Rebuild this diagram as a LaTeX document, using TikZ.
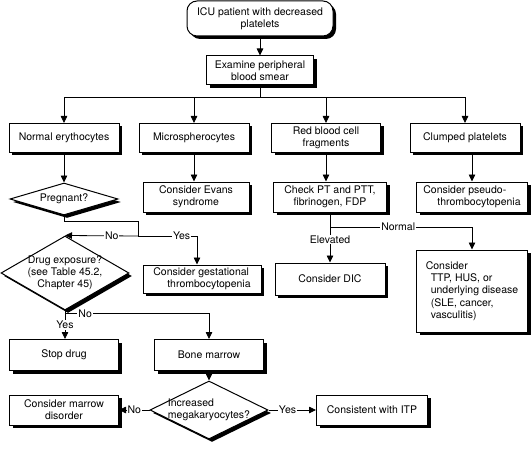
\documentclass[tikz,border=0pt]{standalone}
\usepackage{fontspec}
\setmainfont{TeX Gyre Heros}
\usetikzlibrary{shapes.geometric,shadows,arrows.meta}

\begin{document}
\begin{tikzpicture}[
    x=1pt, y=-1pt,
    boxshadow/.style={drop shadow={shadow xshift=3pt, shadow yshift=-3pt, fill=black, opacity=1}},
    flowbox/.style={rectangle, draw, line width=1pt, fill=white, boxshadow, inner sep=2pt, align=center, font=\fontsize{10.5}{12.2}\selectfont},
    flowdiamond/.style={diamond, draw, line width=1pt, fill=white, boxshadow, inner sep=0pt, align=center, font=\fontsize{10.5}{12.2}\selectfont},
    flowarrow/.style={-{Triangle[length=7pt,width=6.5pt]}, line width=0.8pt},
    flowline/.style={line width=0.8pt},
    flowlabel/.style={fill=white, inner sep=1pt, font=\fontsize{10.5}{12.2}\selectfont},
]
\useasboundingbox (0,0) rectangle (532,449);

\node[flowbox, rounded corners=10pt, minimum width=146pt, minimum height=35pt] (icu) at (260,18.5) {ICU patient with decreased\\platelets};
\node[flowbox, minimum width=107pt, minimum height=29pt] (smear) at (260,70.5) {Examine peripheral\\blood smear};
\coordinate (split) at (260,97);

\node[flowbox, minimum width=110pt, minimum height=29pt] (normal) at (64,138) {Normal erythocytes};
\node[flowbox, minimum width=110pt, minimum height=29pt] (micro)  at (194,138) {Microspherocytes};
\node[flowbox, minimum width=109pt, minimum height=29pt] (rbc)    at (326,138) {Red blood cell\\fragments};
\node[flowbox, minimum width=110pt, minimum height=29pt] (clump)  at (465,138) {Clumped platelets};

\node[flowdiamond, minimum width=108pt, minimum height=32pt, aspect=3.4] (preg) at (64,199) {Pregnant?};
\node[flowbox, minimum width=106pt, minimum height=30pt] (evans)  at (196,197) {Consider Evans\\syndrome};
\node[flowbox, minimum width=113pt, minimum height=30pt] (check)  at (330,197) {Check PT and PTT,\\fibrinogen, FDP};
\node[flowbox, minimum width=111pt, minimum height=30pt, align=left] (pseudo) at (472,197) {Consider pseudo-\\\hspace*{14pt}thrombocytopenia};

\coordinate (pj) at (138,236);
\coordinate (cj) at (330,227);
\node[flowdiamond, minimum width=128pt, minimum height=74pt, aspect=1.73, inner xsep=-6pt, inner ysep=-4pt] (drug) at (65,273) {Drug exposure?\\(see Table 45.2,\\Chapter 45)};
\node[flowbox, minimum width=118pt, minimum height=28pt, align=left] (gest) at (202,279) {Consider gestational\\\hspace*{14pt}thrombocytopenia};
\node[flowbox, minimum width=110pt, minimum height=32pt] (dic) at (330,279) {Consider DIC};
\node[flowbox, minimum width=111pt, minimum height=82pt, align=left] (ttp) at (472,291) {Consider\\\hspace*{5pt}TTP, HUS, or\\\hspace*{5pt}underlying disease\\\hspace*{5pt}(SLE, cancer,\\\hspace*{5pt}vasculitis)};

\node[flowbox, minimum width=109pt, minimum height=31pt] (stop) at (64,355) {Stop drug};
\node[flowbox, minimum width=109pt, minimum height=31pt] (bone) at (209,355) {Bone marrow};
\node[flowdiamond, minimum width=118pt, minimum height=58pt, aspect=2.03, inner xsep=-6pt, inner ysep=-3pt, align=left] (mega) at (209,410) {Increased\\megakaryocytes?};
\node[flowbox, minimum width=109pt, minimum height=30pt] (marrow) at (64,410) {Consider marrow\\disorder};
\node[flowbox, minimum width=111pt, minimum height=30pt] (itp) at (372,410) {Consistent with ITP};

% top of the chart
\draw[flowarrow] (icu) -- (smear);
\draw[flowline] (smear) -- (split);
\draw[flowarrow] (split) -| (normal);
\draw[flowarrow] (split) -| (micro);
\draw[flowarrow] (split) -| (rbc);
\draw[flowarrow] (split) -| (clump);

% second row
\draw[flowarrow] (normal) -- (preg);
\draw[flowarrow] (micro.south) -- (micro.south |- evans.north);
\draw[flowarrow] (rbc.south) -- (rbc.south |- check.north);
\draw[flowarrow] (pseudo |- clump.south) -- (pseudo);

% pregnant?
\draw[flowline] (preg.south) -- ++(0,6) -| (pj);
\draw[flowarrow] (pj) -- node[flowlabel, pos=0.36] {No} (drug.north);
\draw[flowarrow] (pj) -| node[flowlabel, pos=0.37] {Yes} ([xshift=-5pt]gest.north);

% coagulation tests
\draw[flowline] (check) -- (cj);
\draw[flowarrow] (cj) -- node[flowlabel, pos=0.35] {Elevated} (dic);
\draw[flowarrow] (cj) -| node[flowlabel, pos=0.24] {Normal} (ttp);

% drug exposure?
\draw[flowarrow] (drug.south) -- node[flowlabel] {Yes} (drug.south |- stop.north);
\draw[flowarrow] (drug.south) -- ++(0,3) -| node[flowlabel, pos=0.07] {No} (bone);

% bone marrow
\draw[flowarrow] (bone) -- (mega);
\draw[flowarrow] (mega) -- node[flowlabel] {No} (marrow);
\draw[flowarrow] (mega) -- node[flowlabel, pos=0.4] {Yes} (itp);
\end{tikzpicture}
\end{document}
